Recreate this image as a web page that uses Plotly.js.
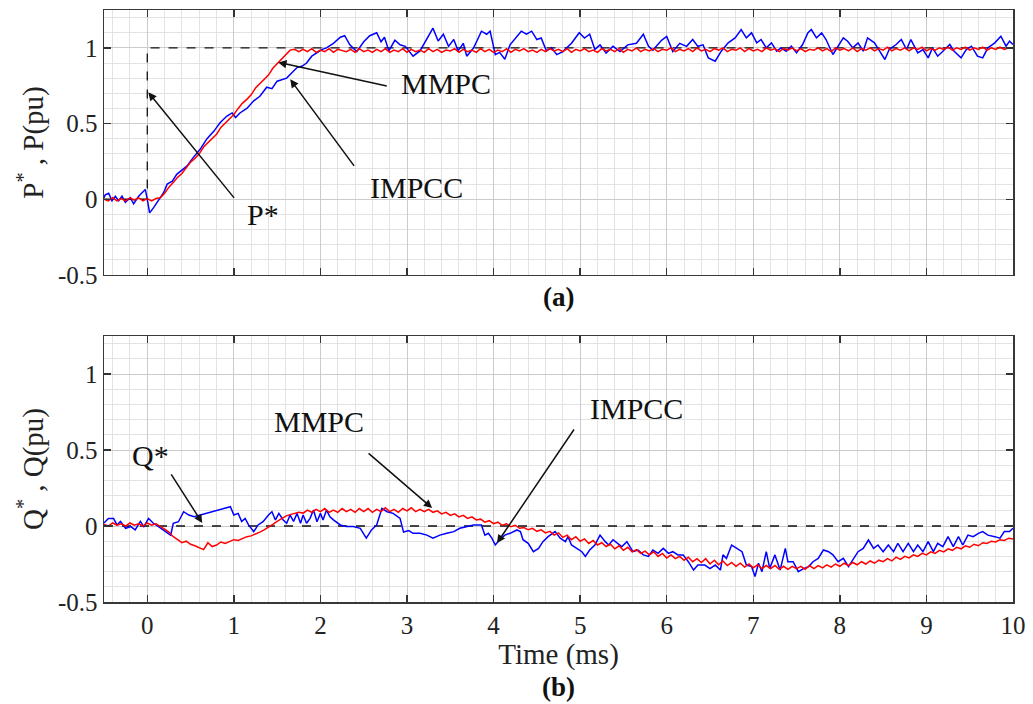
<!DOCTYPE html>
<html>
<head>
<meta charset="utf-8">
<script src="https://cdn.plot.ly/plotly-3.0.1.min.js"></script>
<style>html,body{margin:0;padding:0;background:#fff;}#chart{width:1033px;height:704px;}</style>
</head>
<body>
<div id="chart"></div>
<script>
// ---------- DATA ----------
// Time axis ticks (ms)
const timeTicks = [0,1,2,3,4,5,6,7,8,9,10];
const yTicks = [-0.5, 0, 0.5, 1];
const yTickLabels = ["-0.5", "0", "0.5", "1"];

// Reference steps
const refTime = [-0.5, 0, 0, 10];
const pRef = [0, 0, 1, 1];
const qRefTime = [-0.5, 10];
const qRef = [0, 0];

// MMPC active power (uniform sampling, starts at -0.5 ms, step 0.05 ms)
const mmpcStart = -0.5, mmpcStep = 0.05;
const mmpcP = [
 0.00,-0.01,0.01,-0.01,0.005,-0.01,0.01,-0.005,0.01,-0.01,
 0.005,-0.01,0.005,0.01,0.04,0.08,0.11,0.145,0.17,0.21,
 0.245,0.27,0.30,0.345,0.375,0.40,0.43,0.475,0.505,0.53,
 0.56,0.60,0.635,0.66,0.69,0.735,0.765,0.79,0.82,0.865,
 0.895,0.92,0.95,0.985,0.99,0.975,
 0.99,0.975,0.995,0.97,0.985,0.975,0.995,0.97,0.99,0.98,
 0.975,0.99,0.97,0.995,0.975,0.985,0.97,0.99,0.975,0.995,
 0.97,0.985,0.975,0.995,0.97,0.99,0.975,0.985,0.97,0.995,
 0.975,0.99,0.97,0.985,0.98,0.995,0.97,0.99,0.975,0.985,
 0.97,0.995,0.975,0.99,0.97,0.985,0.975,0.995,0.97,0.99,
 0.98,0.995,0.975,0.985,0.97,0.99,0.975,0.995,0.98,0.99,
 0.975,0.995,0.97,0.99,0.98,0.995,0.975,0.985,0.97,0.995,
 0.98,0.99,0.975,0.995,0.97,0.99,0.98,1.0,0.975,0.99,
 0.98,0.995,0.975,0.99,0.985,1.0,0.975,0.99,0.98,0.995,
 0.975,1.0,0.98,0.99,0.975,0.995,0.985,1.0,0.975,0.99,
 0.985,1.0,0.975,0.995,0.98,0.99,0.975,1.0,0.985,0.995,
 0.975,0.995,0.985,1.0,0.98,0.995,0.975,0.99,0.985,1.0,
 0.98,0.995,0.975,1.0,0.985,0.995,0.98,1.0,0.975,0.995,
 0.985,1.0,0.98,0.995,0.985,1.005,0.98,0.995,0.985,1.0,
 0.98,1.0,0.99,1.005,0.98,0.995,0.985,1.0,0.99,1.005,
 0.985,1.0,0.99,1.005,0.985,1.0,0.99,1.005,0.985,1.0,
 0.99,1.005,0.99,1.0,0.995
];

// IMPCC active power (irregular samples)
const impccPTime = [
 -0.5,-0.485,-0.446,-0.408,-0.369,-0.331,-0.292,-0.254,-0.196,-0.158,
 -0.10,-0.062,-0.023,0.0,0.027,0.073,0.13,0.19,0.23,0.29,
 0.34,0.40,0.46,0.53,0.61,0.69,0.77,0.84,0.92,0.98,
 1.02,1.07,1.15,1.23,1.30,1.38,1.44,1.50,1.55,1.61,
 1.67,1.73,1.79,1.84,1.90,1.96,2.02,2.07,2.15,2.23,
 2.28,2.34,2.42,2.50,2.57,2.65,2.70,2.74,2.79,2.86,
 2.92,2.98,3.07,3.15,3.30,3.36,3.42,3.48,3.54,3.59,
 3.65,3.69,3.77,3.86,3.92,3.96,4.02,4.07,4.13,4.19,
 4.32,4.38,4.44,4.50,4.55,4.61,4.67,4.73,4.80,4.90,
 4.99,5.05,5.11,5.17,5.23,5.30,5.38,5.46,5.55,5.65,
 5.73,5.79,5.84,5.94,6.00,6.07,6.15,6.23,6.30,6.36,
 6.42,6.48,6.56,6.63,6.71,6.79,6.86,6.92,6.98,7.04,
 7.09,7.15,7.21,7.27,7.32,7.38,7.44,7.50,7.57,7.63,
 7.67,7.73,7.79,7.84,7.92,7.98,8.04,8.09,8.15,8.21,
 8.27,8.32,8.40,8.46,8.52,8.57,8.65,8.71,8.77,8.82,
 8.90,8.96,9.02,9.07,9.13,9.19,9.27,9.32,9.40,9.46,
 9.52,9.59,9.65,9.71,9.79,9.86,9.92,9.96,10.0
];
const impccP = [
 0.01,0.03,0.04,-0.01,0.02,-0.01,0.02,-0.02,0.01,-0.03,
 0.02,0.04,0.065,0.0,-0.09,-0.055,-0.01,0.045,0.10,0.12,
 0.165,0.19,0.22,0.275,0.33,0.40,0.45,0.505,0.55,0.57,
 0.54,0.57,0.60,0.65,0.68,0.74,0.73,0.78,0.79,0.80,
 0.835,0.87,0.88,0.90,0.945,0.97,0.99,1.0,1.03,1.07,
 1.08,1.02,0.975,1.04,1.08,1.10,1.04,1.07,0.98,1.05,
 1.02,1.01,0.945,0.98,1.13,1.045,1.09,1.01,1.055,0.98,
 1.03,0.945,1.00,1.11,1.09,1.11,0.955,0.97,0.925,1.02,
 1.11,1.09,1.11,1.055,1.065,0.98,1.00,0.955,0.975,1.03,
 1.10,1.065,1.09,0.99,1.02,0.965,1.01,0.975,1.02,1.03,
 1.09,1.01,0.985,1.05,1.075,0.975,1.03,1.01,1.055,1.01,
 1.02,0.934,0.912,0.978,1.033,1.066,1.121,1.066,1.099,1.033,
 1.055,1.0,1.033,0.978,1.0,0.978,1.011,0.967,1.022,1.099,
 1.121,1.066,1.099,1.055,0.956,1.011,1.066,1.044,1.0,1.033,
 0.978,1.066,1.033,0.978,0.923,0.989,1.022,1.055,0.989,1.055,
 0.967,0.989,0.934,1.0,0.945,0.978,1.022,0.978,0.934,0.989,
 1.011,0.945,0.934,1.0,1.033,1.077,1.011,1.044,1.022
];

// MMPC reactive power (uniform sampling, starts at -0.5 ms, step 0.05 ms)
const mmpcQ = [
 0.01,0.0,0.02,0.005,0.015,0.0,0.02,0.005,0.015,0.0,
 0.02,0.005,0.015,0.0,
 -0.02,-0.04,-0.07,-0.09,-0.11,-0.10,-0.12,-0.13,-0.145,-0.155,
 -0.11,-0.135,-0.125,-0.105,-0.115,-0.10,-0.09,-0.095,-0.08,-0.07,
 -0.065,-0.055,-0.04,-0.025,-0.01,0.01,0.03,0.05,0.065,0.075,
 0.08,0.09,0.085,0.105,0.09,0.11,0.095,0.115,0.09,0.105,
 0.09,0.115,0.095,0.11,0.09,0.115,0.095,0.115,0.09,0.11,
 0.095,0.12,0.095,0.11,0.09,0.115,0.10,0.12,0.095,0.11,
 0.095,0.11,0.09,0.10,0.08,0.09,0.07,0.08,0.06,0.07,
 0.05,0.06,0.04,0.045,0.025,0.035,0.015,0.025,0.005,0.015,
 -0.005,0.005,-0.015,-0.01,-0.025,-0.015,-0.035,-0.025,-0.045,-0.035,
 -0.06,-0.045,-0.075,-0.06,-0.09,-0.07,-0.10,-0.085,-0.115,-0.095,
 -0.125,-0.11,-0.135,-0.12,-0.15,-0.13,-0.16,-0.14,-0.17,-0.155,
 -0.18,-0.165,-0.19,-0.17,-0.20,-0.18,-0.21,-0.19,-0.215,-0.20,
 -0.225,-0.205,-0.235,-0.215,-0.24,-0.215,-0.25,-0.225,-0.255,-0.23,
 -0.26,-0.24,-0.265,-0.245,-0.27,-0.25,-0.275,-0.255,-0.28,-0.26,
 -0.28,-0.26,-0.285,-0.265,-0.285,-0.265,-0.28,-0.265,-0.285,-0.26,
 -0.28,-0.26,-0.275,-0.255,-0.27,-0.25,-0.265,-0.245,-0.26,-0.24,
 -0.255,-0.235,-0.25,-0.23,-0.245,-0.225,-0.235,-0.215,-0.23,-0.205,
 -0.22,-0.20,-0.21,-0.19,-0.20,-0.18,-0.19,-0.17,-0.18,-0.16,
 -0.17,-0.15,-0.16,-0.14,-0.15,-0.13,-0.14,-0.12,-0.13,-0.11,
 -0.115,-0.10,-0.105,-0.09,-0.095,-0.08,-0.085
];

// IMPCC reactive power (irregular samples)
const impccQTime = [
 -0.5,-0.45,-0.39,-0.35,-0.31,-0.25,-0.19,-0.14,-0.08,-0.04,
 0.015,0.07,0.13,0.19,0.27,0.30,0.36,0.42,0.48,0.54,
 0.61,0.69,0.77,0.84,0.92,0.96,1.0,1.05,1.09,1.13,
 1.17,1.23,1.28,1.34,1.40,1.44,1.48,1.52,1.57,1.61,
 1.65,1.69,1.73,1.77,1.80,1.84,1.88,1.92,1.96,2.0,
 2.03,2.07,2.11,2.15,2.23,2.30,2.38,2.46,2.53,2.59,
 2.65,2.71,2.77,2.84,2.92,2.96,3.02,3.07,3.15,3.23,
 3.30,3.38,3.46,3.54,3.61,3.69,3.77,3.86,3.90,3.94,
 3.98,4.02,4.07,4.13,4.19,4.27,4.31,4.34,4.40,4.46,
 4.52,4.57,4.63,4.71,4.77,4.83,4.86,4.90,4.96,5.02,
 5.06,5.11,5.17,5.23,5.29,5.33,5.38,5.44,5.48,5.54,
 5.58,5.61,5.67,5.73,5.79,5.84,5.90,5.96,6.02,6.07,
 6.13,6.19,6.25,6.31,6.36,6.44,6.50,6.56,6.62,6.65,
 6.69,6.75,6.81,6.87,6.92,6.98,7.02,7.06,7.10,7.15,
 7.19,7.25,7.31,7.37,7.40,7.46,7.52,7.58,7.64,7.69,
 7.75,7.81,7.87,7.92,7.98,8.04,8.10,8.15,8.21,8.27,
 8.33,8.39,8.44,8.50,8.56,8.62,8.67,8.73,8.79,8.85,
 8.90,8.96,9.02,9.08,9.13,9.19,9.25,9.31,9.37,9.42,
 9.48,9.54,9.60,9.65,9.71,9.79,9.85,9.90,9.96,10.0
];
const impccQ = [
 0.02,0.05,0.05,0.007,0.03,-0.015,-0.004,-0.026,0.03,-0.004,
 0.05,0.018,-0.004,-0.026,-0.06,0.018,0.028,0.094,0.072,0.061,
 0.072,0.083,0.094,0.105,0.116,0.127,0.072,0.083,0.03,0.05,
 0.007,-0.037,0.007,0.03,0.072,0.094,0.04,0.083,0.04,0.018,
 0.072,0.03,0.083,0.018,0.072,0.018,0.05,0.105,0.028,0.083,
 0.04,0.105,0.061,0.04,0.007,-0.004,-0.004,-0.015,-0.08,-0.026,
 0.007,0.116,0.094,0.083,0.05,-0.04,-0.03,-0.048,-0.048,-0.06,
 -0.08,-0.06,-0.048,-0.037,-0.015,-0.004,0.007,0.007,-0.06,-0.048,
 -0.08,-0.125,-0.09,-0.06,-0.048,-0.026,-0.037,-0.09,-0.114,-0.169,
 -0.147,-0.103,-0.07,-0.037,-0.08,-0.103,-0.07,-0.125,-0.147,-0.169,
 -0.20,-0.158,-0.125,-0.06,-0.103,-0.125,-0.09,-0.114,-0.136,-0.103,
 -0.136,-0.169,-0.158,-0.19,-0.20,-0.158,-0.18,-0.147,-0.18,-0.169,
 -0.19,-0.19,-0.235,-0.29,-0.257,-0.257,-0.28,-0.257,-0.29,-0.19,
 -0.213,-0.125,-0.147,-0.169,-0.257,-0.267,-0.333,-0.245,-0.30,-0.169,
 -0.28,-0.19,-0.29,-0.147,-0.235,-0.235,-0.30,-0.28,-0.267,-0.235,
 -0.213,-0.158,-0.169,-0.19,-0.235,-0.213,-0.267,-0.224,-0.169,-0.147,
 -0.092,-0.147,-0.125,-0.169,-0.125,-0.169,-0.114,-0.169,-0.114,-0.169,
 -0.125,-0.169,-0.103,-0.169,-0.114,-0.136,-0.07,-0.136,-0.07,-0.125,
 -0.06,-0.07,-0.048,-0.037,-0.06,-0.07,-0.08,-0.037,-0.037,-0.015
];

// ---------- CHART ----------
const FONT = "Liberation Serif, Times New Roman, serif";
const red = "#ff0000", blue = "#0000ff";

const traces = [
  {x: refTime, y: pRef, xaxis: "x", yaxis: "y", mode: "lines", name: "P*",
   line: {color: "#111", width: 1.3, dash: "dash"}},
  {x: impccPTime, y: impccP, xaxis: "x", yaxis: "y", mode: "lines", name: "IMPCC",
   line: {color: blue, width: 1.5}},
  {x0: mmpcStart, dx: mmpcStep, y: mmpcP, xaxis: "x", yaxis: "y", mode: "lines", name: "MMPC",
   line: {color: red, width: 1.5}},
  {x: qRefTime, y: qRef, xaxis: "x2", yaxis: "y2", mode: "lines", name: "Q*",
   line: {color: "#111", width: 1.3, dash: "dash"}},
  {x: impccQTime, y: impccQ, xaxis: "x2", yaxis: "y2", mode: "lines", name: "IMPCC",
   line: {color: blue, width: 1.5}},
  {x0: mmpcStart, dx: mmpcStep, y: mmpcQ, xaxis: "x2", yaxis: "y2", mode: "lines", name: "MMPC",
   line: {color: red, width: 1.5}}
];

function xAxis(showLabels, anchor) {
  return {
    domain: [0, 1], anchor: anchor, range: [-0.5, 10],
    tickmode: "array", tickvals: timeTicks, ticktext: timeTicks.map(String),
    showticklabels: showLabels, ticks: "inside", ticklen: 7, tickwidth: 1.3, tickcolor: "#333",
    showline: true, linecolor: "#383838", linewidth: 1.5, mirror: "ticks",
    showgrid: true, gridcolor: "#cbcbcb", gridwidth: 1, zeroline: false,
    minor: {tick0: 0, dtick: 0.2, showgrid: true, gridcolor: "#e3e3e3", gridwidth: 1, ticks: ""},
    tickfont: {family: FONT, size: 25, color: "#222"}
  };
}
function yAxis(domain, anchor, title) {
  return {
    domain: domain, anchor: anchor, range: [-0.5, 1.25],
    tickmode: "array", tickvals: yTicks, ticktext: yTickLabels,
    ticks: "inside", ticklen: 7, tickwidth: 1.3, tickcolor: "#333",
    showline: true, linecolor: "#383838", linewidth: 1.5, mirror: "ticks",
    showgrid: true, gridcolor: "#cbcbcb", gridwidth: 1, zeroline: false,
    minor: {tick0: 0, dtick: 0.1, showgrid: true, gridcolor: "#e3e3e3", gridwidth: 1, ticks: ""},
    tickfont: {family: FONT, size: 25, color: "#222"},
    title: {text: title, font: {family: FONT, size: 29, color: "#222"}, standoff: 6}
  };
}

const xa = xAxis(false, "y");
const xb = xAxis(true, "y2");
xb.title = {text: "Time (ms)", font: {family: FONT, size: 29, color: "#222"}, standoff: 4};

// text label placed at data coordinates
const txt = (x, y, xref, yref, text) => ({
  x: x, y: y, xref: xref, yref: yref, text: text, showarrow: false,
  xanchor: "center", yanchor: "middle", font: {family: FONT, size: 30, color: "#111"}
});
// arrow: head at (x, y), tail offset (ax, ay) in px
const arrow = (x, y, xref, yref, ax, ay) => ({
  x: x, y: y, xref: xref, yref: yref, ax: ax, ay: ay, text: "", showarrow: true,
  arrowhead: 2, arrowsize: 1.1, arrowwidth: 1.5, arrowcolor: "#111", standoff: 0
});

const layout = {
  width: 1033, height: 704,
  margin: {l: 104, r: 20, t: 10, b: 102},
  paper_bgcolor: "#fff", plot_bgcolor: "#fff",
  showlegend: false,
  xaxis: xa,
  yaxis: yAxis([0.5524, 1], "x", "P<sup>*</sup> , P(pu)"),
  xaxis2: xb,
  yaxis2: yAxis([0, 0.4493], "x2", "Q<sup>*</sup> , Q(pu)"),
  annotations: [
    arrow(1.513, 0.904, "x", "y", 110, 24),
    txt(3.453, 0.766, "x", "y", "MMPC"),
    arrow(1.651, 0.792, "x", "y", 65, 88),
    txt(3.106, 0.079, "x", "y", "IMPCC"),
    arrow(0.012, 0.706, "x", "y", 87, 107),
    txt(1.34, -0.099, "x", "y", "P*"),
    {x: 0.5, y: 0.5524, xref: "paper", yref: "paper", text: "<b>(a)</b>", showarrow: false,
     xanchor: "center", yanchor: "top", yshift: -5, font: {family: FONT, size: 27, color: "#111"}},
    arrow(0.635, 0.02, "x2", "y2", -32, -50),
    txt(0.035, 0.467, "x2", "y2", "Q*"),
    arrow(3.29, 0.118, "x2", "y2", -65, -56),
    txt(1.986, 0.69, "x2", "y2", "MMPC"),
    arrow(4.04, -0.112, "x2", "y2", 78, -115),
    txt(5.647, 0.776, "x2", "y2", "IMPCC"),
    {x: 0.5, y: 0, xref: "paper", yref: "paper", text: "<b>(b)</b>", showarrow: false,
     xanchor: "center", yanchor: "top", yshift: -68, font: {family: FONT, size: 27, color: "#111"}}
  ]
};

Plotly.newPlot("chart", traces, layout, {displayModeBar: false, staticPlot: true});
</script>
</body>
</html>
